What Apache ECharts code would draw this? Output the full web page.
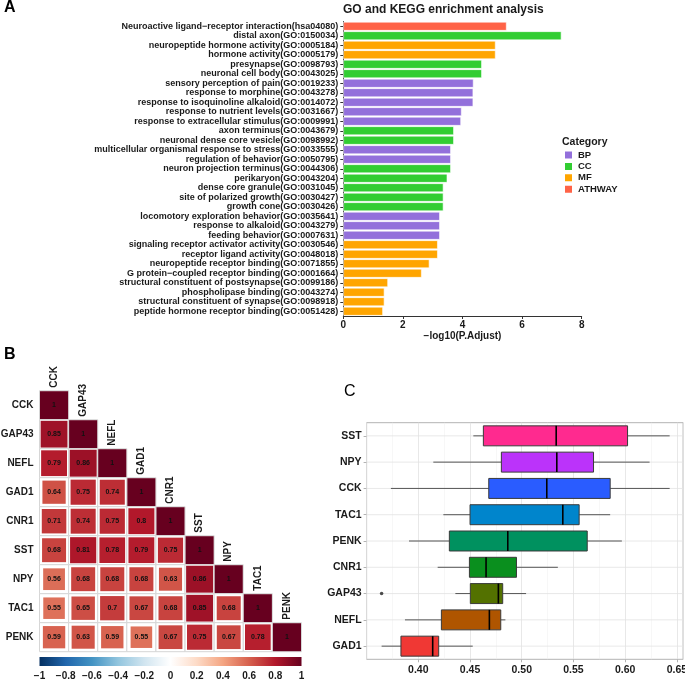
<!DOCTYPE html>
<html><head><meta charset="utf-8">
<script src="https://cdn.jsdelivr.net/npm/echarts@6/dist/echarts.min.js"></script>
<style>html,body{margin:0;padding:0;background:#fff}#c{width:685px;height:681px}</style>
</head><body><div id="c"></div><script>
const FONT = '"Liberation Sans", Arial, Helvetica, sans-serif';
const TXT = '#1a1a1a';

// ---------- Panel A: GO / KEGG enrichment ----------
const terms = [
  'Neuroactive ligand\u2212receptor interaction(hsa04080)',
  'distal axon(GO:0150034)',
  'neuropeptide hormone activity(GO:0005184)',
  'hormone activity(GO:0005179)',
  'presynapse(GO:0098793)',
  'neuronal cell body(GO:0043025)',
  'sensory perception of pain(GO:0019233)',
  'response to morphine(GO:0043278)',
  'response to isoquinoline alkaloid(GO:0014072)',
  'response to nutrient levels(GO:0031667)',
  'response to extracellular stimulus(GO:0009991)',
  'axon terminus(GO:0043679)',
  'neuronal dense core vesicle(GO:0098992)',
  'multicellular organismal response to stress(GO:0033555)',
  'regulation of behavior(GO:0050795)',
  'neuron projection terminus(GO:0044306)',
  'perikaryon(GO:0043204)',
  'dense core granule(GO:0031045)',
  'site of polarized growth(GO:0030427)',
  'growth cone(GO:0030426)',
  'locomotory exploration behavior(GO:0035641)',
  'response to alkaloid(GO:0043279)',
  'feeding behavior(GO:0007631)',
  'signaling receptor activator activity(GO:0030546)',
  'receptor ligand activity(GO:0048018)',
  'neuropeptide receptor binding(GO:0071855)',
  'G protein\u2212coupled receptor binding(GO:0001664)',
  'structural constituent of postsynapse(GO:0099186)',
  'phospholipase binding(GO:0043274)',
  'structural constituent of synapse(GO:0098918)',
  'peptide hormone receptor binding(GO:0051428)'
];
const logP = [5.48, 7.32, 5.11, 5.11, 4.65, 4.65, 4.37, 4.36, 4.36, 3.97, 3.95, 3.71, 3.71, 3.61, 3.61,
  3.61, 3.49, 3.36, 3.36, 3.36, 3.24, 3.24, 3.24, 3.17, 3.17, 2.89, 2.63, 1.50, 1.38, 1.38, 1.33];
const termCat = ['ATHWAY','CC','MF','MF','CC','CC','BP','BP','BP','BP','BP','CC','CC','BP','BP',
  'CC','CC','CC','CC','CC','BP','BP','BP','MF','MF','MF','MF','MF','MF','MF','MF'];
const catNames = ['BP', 'CC', 'MF', 'ATHWAY'];
const catColors = ['#9370DB', '#32CD32', '#FFA500', '#FF6347'];
const xTicksA = [0, 8, 2];

// ---------- Panel B: correlation ----------
const genes = ['CCK', 'GAP43', 'NEFL', 'GAD1', 'CNR1', 'SST', 'NPY', 'TAC1', 'PENK'];
const corrRows = [
  [1],
  [0.85, 1],
  [0.79, 0.86, 1],
  [0.64, 0.75, 0.74, 1],
  [0.71, 0.74, 0.75, 0.8, 1],
  [0.68, 0.81, 0.78, 0.79, 0.75, 1],
  [0.56, 0.68, 0.68, 0.68, 0.63, 0.86, 1],
  [0.55, 0.65, 0.7, 0.67, 0.68, 0.85, 0.68, 1],
  [0.59, 0.63, 0.59, 0.55, 0.67, 0.75, 0.67, 0.78, 1]
];
const rdbu = ['#053061', '#2166AC', '#4393C3', '#92C5DE', '#D1E5F0', '#FFFFFF',
  '#FDDBC7', '#F4A582', '#D6604D', '#B2182B', '#67001F'];
const cbRange = [-1, 1];

// ---------- Panel C: boxplots ----------
const boxGenes = ['SST', 'NPY', 'CCK', 'TAC1', 'PENK', 'CNR1', 'GAP43', 'NEFL', 'GAD1'];
const boxLow  = [0.4532, 0.4145, 0.3735, 0.4242, 0.3910, 0.4187, 0.4358, 0.3871, 0.3645];
const boxQ1   = [0.4629, 0.4803, 0.4681, 0.4500, 0.4300, 0.4494, 0.4503, 0.4223, 0.3832];
const boxMed  = [0.5333, 0.5339, 0.5242, 0.5397, 0.4865, 0.4655, 0.4774, 0.4687, 0.4139];
const boxQ3   = [0.6023, 0.5694, 0.5855, 0.5555, 0.5633, 0.4949, 0.4816, 0.4797, 0.4197];
const boxHigh = [0.6430, 0.6236, 0.6430, 0.5855, 0.5968, 0.5349, 0.5042, 0.4842, 0.4526];
const boxColors = ['#FF2A8F', '#BB33FA', '#2A5CFF', '#0085CC', '#00915F', '#0A8F1E', '#537100', '#AF5500', '#F03834'];
const outlierGene = ['GAP43'];
const outlierVal = [0.3645];

// ---------- build ----------
const chart = echarts.init(document.getElementById('c'));

const barSeries = catNames.map((name, k) => ({
  type: 'bar', name, xAxisIndex: 0, yAxisIndex: 0, stack: 'go', barWidth: '93%',
  data: logP.map((v, i) => termCat[i] === name ? v : '-'),
  itemStyle: { color: catColors[k], borderColor: '#ffffff', borderWidth: 0.6 },
  emphasis: { disabled: true }
}));

const corrData = [];
corrRows.forEach((row, i) => row.forEach((v, j) => corrData.push([j, i, v])));

const corrSeries = {
  type: 'custom', xAxisIndex: 1, yAxisIndex: 1, data: corrData,
  encode: { x: 0, y: 1 },
  renderItem: function (params, api) {
    const x = api.value(0), y = api.value(1), v = api.value(2);
    const c = api.coord([x, y]);
    const sz = api.size([1, 1]);
    const w = sz[0], h = sz[1];
    const s = Math.sqrt(Math.abs(v));
    const children = [
      { type: 'rect', shape: { x: c[0] - w / 2, y: c[1] - h / 2, width: w, height: h },
        style: { fill: '#ffffff', stroke: '#d6d6d6', lineWidth: 1 } },
      { type: 'rect', shape: { x: c[0] - w * s / 2 + (s < 1 ? 0 : 0.5), y: c[1] - h * s / 2 + (s < 1 ? 0 : 0.5),
          width: w * s - (s < 1 ? 0 : 1), height: h * s - (s < 1 ? 0 : 1) },
        style: { fill: api.visual('color') } },
      { type: 'text', style: { text: String(v), x: c[0], y: c[1], align: 'center', verticalAlign: 'middle',
          fill: '#111', fontSize: 7, fontWeight: 'bold', fontFamily: FONT } }
    ];
    if (x === y) {
      children.push({ type: 'text', x: c[0], y: c[1] - h / 2 - 3, rotation: Math.PI / 2,
        style: { text: genes[x], x: 0, y: 0, align: 'left', verticalAlign: 'middle',
          fill: TXT, fontSize: 10, fontWeight: 'bold', fontFamily: FONT } });
    }
    return { type: 'group', children };
  }
};

const cbSeries = {
  type: 'custom', xAxisIndex: 2, yAxisIndex: 2, data: [[cbRange[0], cbRange[1]]],
  renderItem: function (params, api) {
    const p0 = api.coord([api.value(0), 0]);
    const p1 = api.coord([api.value(1), 1]);
    return { type: 'rect', shape: { x: p0[0], y: p1[1], width: p1[0] - p0[0], height: p0[1] - p1[1] },
      style: { fill: new echarts.graphic.LinearGradient(0, 0, 1, 0,
        rdbu.map((col, i) => ({ offset: i / (rdbu.length - 1), color: col }))) } };
  }
};

const hLineSeries = {
  type: 'custom', xAxisIndex: 3, yAxisIndex: 3, z: 1, silent: true,
  data: boxGenes.map((g, i) => [0.5, i]), encode: { x: 0, y: 1 },
  renderItem: function (params, api) {
    const cs = params.coordSys;
    const yy = api.coord([api.value(0), api.value(1)])[1];
    return { type: 'line', shape: { x1: cs.x, y1: yy, x2: cs.x + cs.width, y2: yy },
      style: { stroke: '#e2e2e2', lineWidth: 0.8 } };
  }
};

const boxSeries = {
  type: 'custom', xAxisIndex: 3, yAxisIndex: 3, z: 3,
  data: boxGenes.map((g, i) => [i, boxLow[i], boxQ1[i], boxMed[i], boxQ3[i], boxHigh[i]]),
  encode: { x: [1, 2, 3, 4, 5], y: 0 },
  renderItem: function (params, api) {
    const i = api.value(0);
    const pL = api.coord([api.value(1), i]), pQ1 = api.coord([api.value(2), i]),
          pM = api.coord([api.value(3), i]), pQ3 = api.coord([api.value(4), i]),
          pH = api.coord([api.value(5), i]);
    const bh = api.size([0, 1])[1] * 0.76;
    const yc = pM[1];
    return { type: 'group', children: [
      { type: 'line', shape: { x1: pL[0], y1: yc, x2: pQ1[0], y2: yc }, style: { stroke: '#555', lineWidth: 1 } },
      { type: 'line', shape: { x1: pQ3[0], y1: yc, x2: pH[0], y2: yc }, style: { stroke: '#555', lineWidth: 1 } },
      { type: 'rect', shape: { x: pQ1[0], y: yc - bh / 2, width: pQ3[0] - pQ1[0], height: bh },
        style: { fill: boxColors[i], stroke: '#3a3a3a', lineWidth: 1 } },
      { type: 'line', shape: { x1: pM[0], y1: yc - bh / 2, x2: pM[0], y2: yc + bh / 2 },
        style: { stroke: '#000', lineWidth: 1.6 } }
    ] };
  }
};

const outlierSeries = {
  type: 'scatter', xAxisIndex: 3, yAxisIndex: 3, z: 4, symbolSize: 3.5,
  data: outlierVal.map((v, k) => [v, outlierGene[k]]),
  itemStyle: { color: '#222' }
};

const option = {
  animation: false,
  backgroundColor: '#ffffff',
  textStyle: { fontFamily: FONT },
  title: [
    { text: 'A', left: 4, top: 0, padding: 0, textStyle: { fontSize: 16, fontWeight: 'bold', color: '#000', fontFamily: FONT } },
    { text: 'GO and KEGG enrichment analysis', left: 343, top: 4, padding: 0,
      textStyle: { fontSize: 12, fontWeight: 'bold', color: TXT, fontFamily: FONT } },
    { text: 'Category', left: 562, top: 137, padding: 0,
      textStyle: { fontSize: 10.5, fontWeight: 'bold', color: TXT, fontFamily: FONT } },
    { text: 'B', left: 4, top: 347, padding: 0, textStyle: { fontSize: 16, fontWeight: 'bold', color: '#000', fontFamily: FONT } },
    { text: 'C', left: 344, top: 384, padding: 0, textStyle: { fontSize: 16, fontWeight: 'normal', color: '#000', fontFamily: FONT } }
  ],
  legend: {
    data: catNames, orient: 'vertical', left: 563, top: 149.5, padding: 0,
    itemWidth: 9, itemHeight: 9, itemGap: 0.4, icon: 'rect', selectedMode: false,
    textStyle: { fontSize: 9.5, fontWeight: 'bold', color: TXT, fontFamily: FONT, lineHeight: 9 }
  },
  visualMap: {
    type: 'continuous', show: false, min: -1, max: 1, dimension: 2, seriesIndex: 4,
    inRange: { color: rdbu }
  },
  grid: [
    { left: 343.3, top: 21.5, width: 238.4, height: 294.5, outerBoundsMode: 'none' },
    { left: 39.5, top: 390.7, width: 262, height: 261, outerBoundsMode: 'none' },
    { left: 39.5, top: 657, width: 262, height: 9, outerBoundsMode: 'none' },
    { left: 366.6, top: 422.7, width: 316.5, height: 236.6, show: true, borderColor: '#b3b3b3', borderWidth: 1,
      outerBoundsMode: 'none' }
  ],
  xAxis: [
    { gridIndex: 0, type: 'value', min: xTicksA[0], max: xTicksA[1], interval: xTicksA[2],
      axisLine: { show: true, lineStyle: { color: '#333', width: 1 } },
      axisTick: { show: true, length: 3, lineStyle: { color: '#333' } },
      axisLabel: { fontSize: 10, fontWeight: 'bold', color: TXT, margin: 4, fontFamily: FONT },
      splitLine: { show: false },
      name: '\u2212log10(P.Adjust)', nameLocation: 'middle', nameGap: 15,
      nameTextStyle: { fontSize: 10, fontWeight: 'bold', color: TXT, fontFamily: FONT } },
    { gridIndex: 1, type: 'category', data: genes, show: false },
    { gridIndex: 2, type: 'value', min: cbRange[0], max: cbRange[1], interval: 0.2,
      axisLine: { show: false }, axisTick: { show: false }, splitLine: { show: false },
      axisLabel: { fontSize: 10, fontWeight: 'bold', color: TXT, margin: 5, fontFamily: FONT,
        formatter: v => String(Math.round(v * 10) / 10).replace('-', '\u2212') } },
    { gridIndex: 3, type: 'value', min: 0.35, max: 0.656, interval: 0.05,
      axisLine: { show: false },
      axisTick: { show: true, length: 3, lineStyle: { color: '#b3b3b3' } },
      axisLabel: { fontSize: 10.5, fontWeight: 'bold', color: TXT, margin: 5, fontFamily: FONT,
        showMinLabel: false, showMaxLabel: false, formatter: v => v.toFixed(2) },
      splitLine: { show: true, lineStyle: { color: '#e2e2e2', width: 0.8 } },
      minorTick: { show: false, splitNumber: 2 },
      minorSplitLine: { show: true, lineStyle: { color: '#efefef', width: 0.5 } } }
  ],
  yAxis: [
    { gridIndex: 0, type: 'category', data: terms, inverse: true,
      axisLine: { show: true, lineStyle: { color: '#333' } },
      axisTick: { show: true, length: 3, alignWithLabel: true, lineStyle: { color: '#333' } },
      axisLabel: { interval: 0, fontSize: 9, fontWeight: 'bold', color: TXT, margin: 5, fontFamily: FONT },
      splitLine: { show: false } },
    { gridIndex: 1, type: 'category', data: genes, inverse: true,
      axisLine: { show: false }, axisTick: { show: false }, splitLine: { show: false },
      axisLabel: { interval: 0, fontSize: 10, fontWeight: 'bold', color: TXT, margin: 6, fontFamily: FONT } },
    { gridIndex: 2, type: 'value', min: 0, max: 1, show: false },
    { gridIndex: 3, type: 'category', data: boxGenes, inverse: true,
      axisLine: { show: false },
      axisTick: { show: true, length: 3, alignWithLabel: true, lineStyle: { color: '#b3b3b3' } },
      axisLabel: { interval: 0, fontSize: 10.5, fontWeight: 'bold', color: TXT, margin: 5, fontFamily: FONT },
      splitLine: { show: false } }
  ],
  series: [...barSeries, corrSeries, cbSeries, hLineSeries, boxSeries, outlierSeries]
};
chart.setOption(option);
</script></body></html>
